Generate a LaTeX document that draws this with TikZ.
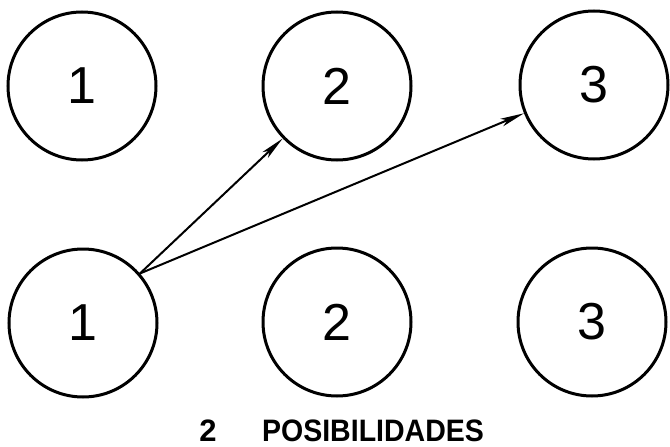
\documentclass[tikz,border=0pt]{standalone}
\usepackage{fontspec}
\setmainfont{Liberation Sans}
\usetikzlibrary{arrows.meta}
\begin{document}
\begin{tikzpicture}[x=1pt,y=-1pt,
  bubble/.style={circle,draw,line width=3pt,minimum size=148pt,inner sep=0pt,
    font=\fontsize{52}{52}\selectfont},
  conn/.style={line width=2pt,-{Stealth[length=24pt,width=8pt,inset=6pt]}},
  caption/.style={font=\bfseries\fontsize{31}{31}\selectfont,inner sep=0pt}]
\useasboundingbox (0,0) rectangle (670,447);
\node[bubble] (t1) at (82,86) {1};
\node[bubble] (t2) at (337,86) {2};
\node[bubble] (t3) at (594,85) {3};
\node[bubble] (b1) at (83,323) {1};
\node[bubble] (b2) at (337,322) {2};
\node[bubble] (b3) at (592,322) {3};
\draw[conn] (b1.41.8) -- (t2.224.5);
\draw[conn] (b1.41.8) -- (t3.202.8);
\node[caption] (n) at (208,431) {2};
\node[caption,xscale=0.92] (p) at (373,431) {POSIBILIDADES};
\end{tikzpicture}
\end{document}
